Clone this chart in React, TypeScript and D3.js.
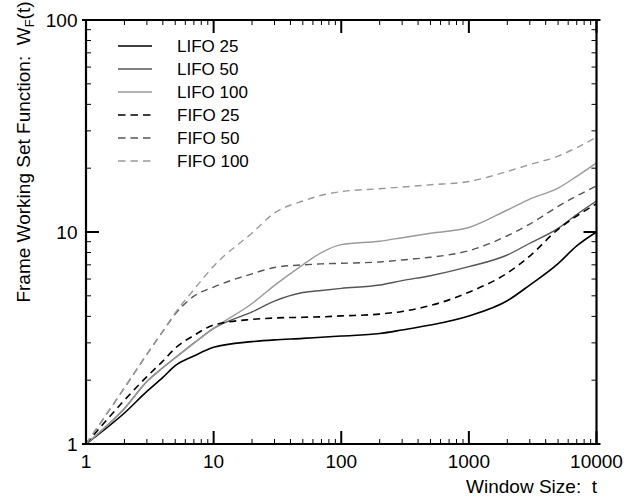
import React from "react";
import * as d3 from "d3";

// Window sizes t (x values)
const windowSizes = [1, 2, 3, 4, 5, 7, 10, 20, 30, 50, 70, 100, 200, 300, 500, 1000, 2000, 3000, 5000, 7000, 10000];

// Frame working set function values W_F(t)
const lifo25 = [1, 1.4, 1.77, 2.06, 2.34, 2.6, 2.86, 3.04, 3.1, 3.15, 3.19, 3.23, 3.32, 3.45, 3.64, 4.02, 4.74, 5.62, 7.1, 8.6, 10];
const lifo50 = [1, 1.47, 1.97, 2.29, 2.55, 2.99, 3.51, 4.2, 4.72, 5.18, 5.3, 5.42, 5.62, 5.9, 6.22, 6.86, 7.79, 8.85, 10.4, 12.1, 14.0];
const lifo100 = [1, 1.47, 1.97, 2.29, 2.55, 2.99, 3.51, 4.6, 5.6, 7.0, 8.0, 8.72, 9.05, 9.4, 9.86, 10.5, 12.7, 14.3, 16.1, 18.3, 21.2];
const fifo25 = [1, 1.61, 2.08, 2.46, 2.83, 3.25, 3.64, 3.87, 3.93, 3.96, 3.98, 4.02, 4.1, 4.22, 4.5, 5.2, 6.4, 7.7, 10.3, 11.9, 13.6];
const fifo50 = [1, 1.84, 2.65, 3.4, 4.1, 4.98, 5.5, 6.35, 6.8, 7.0, 7.07, 7.12, 7.22, 7.38, 7.6, 8.16, 9.6, 10.9, 13.2, 14.8, 16.5];
const fifo100 = [1, 1.84, 2.65, 3.4, 4.15, 5.35, 6.9, 9.9, 12.3, 14.0, 14.9, 15.5, 16.0, 16.3, 16.7, 17.3, 19.3, 20.8, 22.8, 25.0, 28.0];

const seriesNames = ["LIFO 25", "LIFO 50", "LIFO 100", "FIFO 25", "FIFO 50", "FIFO 100"];
const seriesValues = [lifo25, lifo50, lifo100, fifo25, fifo50, fifo100];
const seriesColors = ["#000000", "#555555", "#9a9a9a", "#000000", "#555555", "#9a9a9a"];
const seriesDashed = [false, false, false, true, true, true];

const xTickLabels = ["1", "10", "100", "1000", "10000"];
const yTickLabels = ["1", "10", "100"];

const W = 643;
const H = 499;
const FONT = "'Liberation Sans', Arial, Helvetica, sans-serif";

export default function App() {
  const x = d3.scaleLog().domain([1, 10000]).range([86, 596.5]);
  const y = d3.scaleLog().domain([1, 100]).range([444, 20]);

  const line = d3
    .line<[number, number]>()
    .x((d) => x(d[0]))
    .y((d) => y(d[1]))
    .curve(d3.curveMonotoneX);

  const xTicks = x.ticks();
  const yTicks = y.ticks();
  const isMajor = (v: number) => Math.abs(Math.log10(v) - Math.round(Math.log10(v))) < 1e-9;

  const left = x.range()[0];
  const right = x.range()[1];
  const top = y.range()[1];
  const bottom = y.range()[0];

  return (
    <svg
      width={W}
      height={H}
      style={{ position: "absolute", left: 0, top: 0, background: "#fff" }}
      fontFamily={FONT}
    >
      <rect x={0} y={0} width={W} height={H} fill="#fff" />
      {/* data lines */}
      <g fill="none">
        {seriesValues.map((vals, i) => (
          <path
            key={seriesNames[i]}
            d={line(windowSizes.map((t, j) => [t, vals[j]] as [number, number])) || ""}
            stroke={seriesColors[i]}
            strokeWidth={i % 3 === 0 ? 1.6 : 1.4}
            strokeDasharray={seriesDashed[i] ? "7,5" : undefined}
          />
        ))}
      </g>

      {/* ticks */}
      <g stroke="#000">
        {xTicks.map((v, i) => {
          const major = isMajor(v);
          const len = major ? 13 : 5;
          const px = x(v);
          return (
            <g key={"xt" + i} strokeWidth={major ? 2 : 1}>
              <line x1={px} x2={px} y1={bottom} y2={bottom - len} />
              <line x1={px} x2={px} y1={top} y2={top + len} />
            </g>
          );
        })}
        {yTicks.map((v, i) => {
          const major = isMajor(v);
          const len = major ? 13 : 5;
          const py = y(v);
          return (
            <g key={"yt" + i} strokeWidth={major ? 2 : 1}>
              <line x1={left} x2={left + len} y1={py} y2={py} />
              <line x1={right} x2={right - len} y1={py} y2={py} />
            </g>
          );
        })}
      </g>

      {/* frame */}
      <g stroke="#000" strokeWidth={2.2}>
        <line x1={left - 4} x2={right + 4} y1={top} y2={top} />
        <line x1={left - 4} x2={right + 4} y1={bottom} y2={bottom} />
        <line x1={left} x2={left} y1={top - 1} y2={bottom + 1} />
        <line x1={right} x2={right} y1={top - 1} y2={bottom + 1} />
      </g>

      {/* x tick labels */}
      {xTickLabels.map((lab) => (
        <text key={"xl" + lab} x={x(+lab)} y={468} fontSize={19} textAnchor="middle" fill="#000">
          {lab}
        </text>
      ))}
      {/* y tick labels */}
      {yTickLabels.map((lab) => (
        <text key={"yl" + lab} x={77.5} y={y(+lab) + 6.8} fontSize={19} textAnchor="end" fill="#000">
          {lab}
        </text>
      ))}

      {/* axis titles */}
      <text x={597} y={493} fontSize={19} textAnchor="end" fill="#000" xmlSpace="preserve">
        {"Window Size:  t"}
      </text>
      <text
        transform="translate(30,152) rotate(-90)"
        fontSize={19}
        textAnchor="middle"
        fill="#000"
        xmlSpace="preserve"
      >
        {"Frame Working Set Function:  W"}
        <tspan fontSize={13} dy={4}>F</tspan>
        <tspan dy={-4}>(t)</tspan>
      </text>

      {/* legend */}
      {seriesNames.map((name, i) => {
        const ly = 46 + i * 23;
        return (
          <g key={"lg" + name}>
            <line
              x1={118}
              x2={152}
              y1={ly}
              y2={ly}
              stroke={seriesColors[i]}
              strokeWidth={i % 3 === 0 ? 1.6 : 1.4}
              strokeDasharray={seriesDashed[i] ? "7.5,5" : undefined}
            />
            <text x={177} y={ly + 6} fontSize={17} fill="#000">
              {name}
            </text>
          </g>
        );
      })}
    </svg>
  );
}
